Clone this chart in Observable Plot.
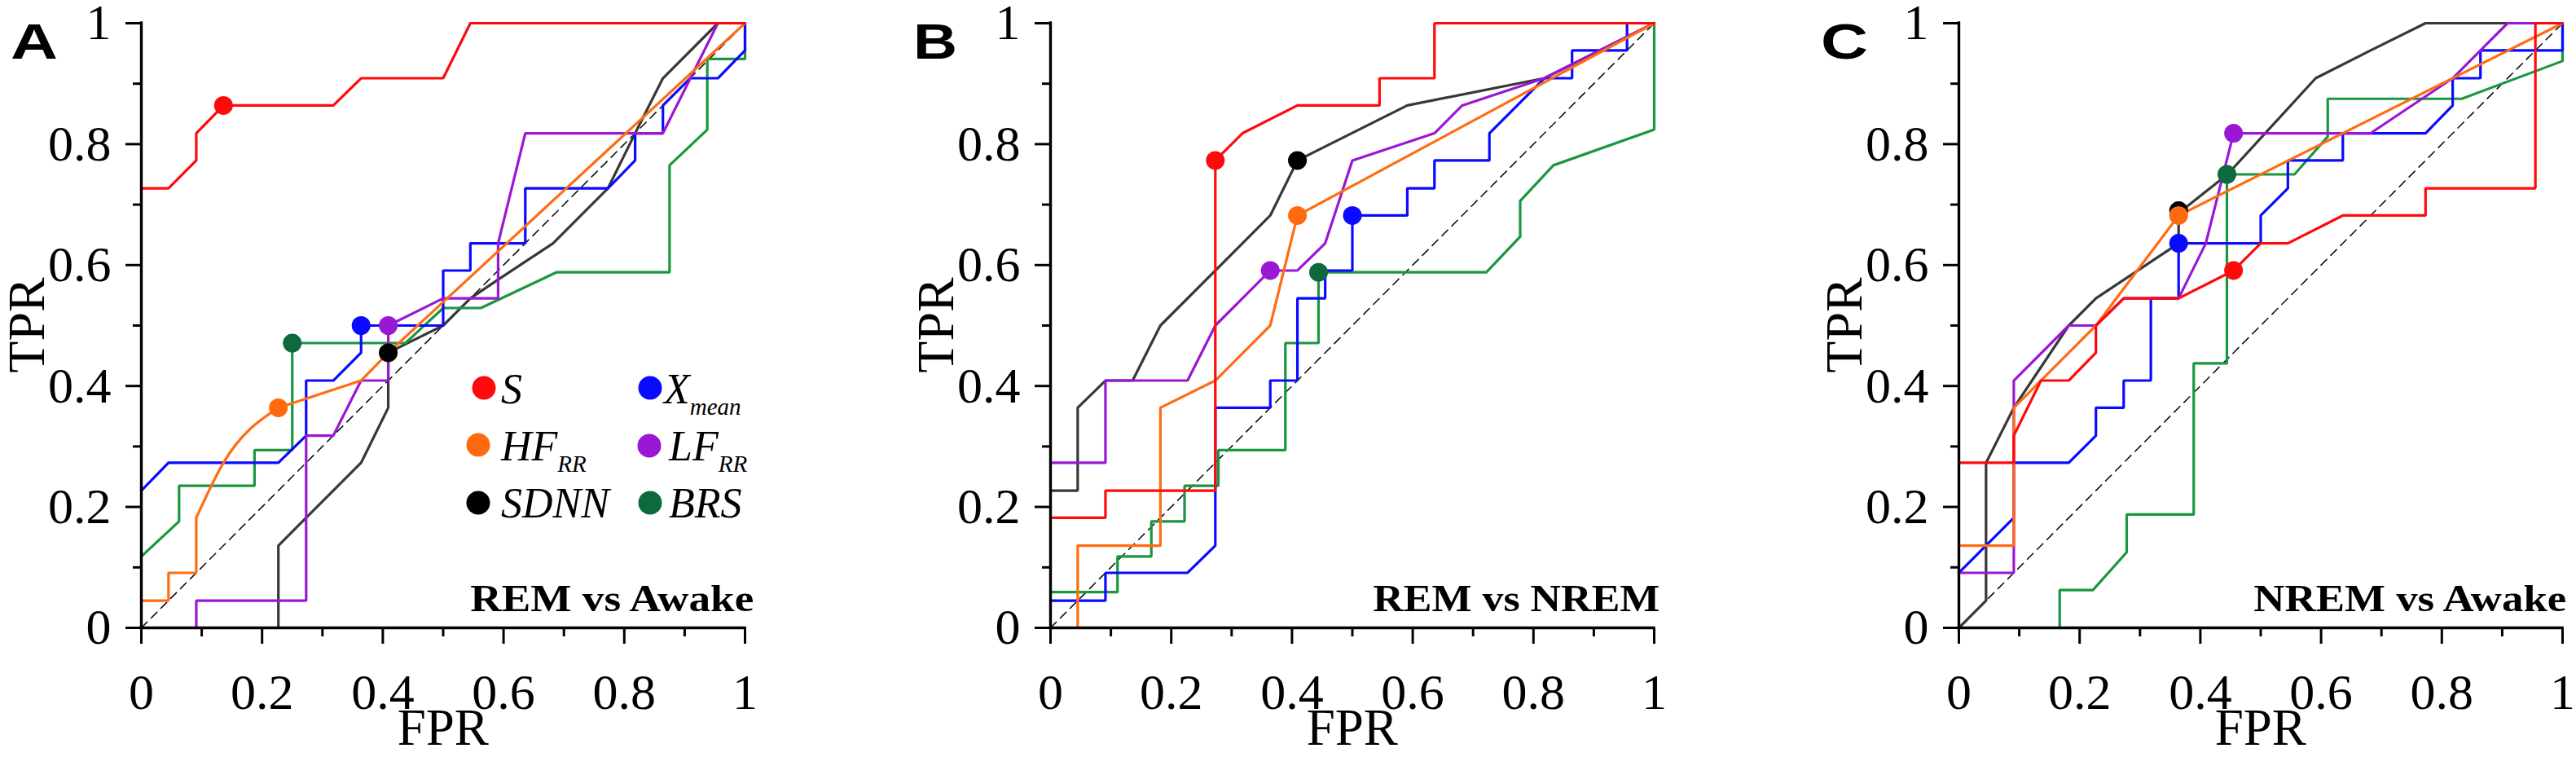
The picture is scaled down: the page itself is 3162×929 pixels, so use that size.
<!DOCTYPE html>
<html>
<head>
<meta charset="utf-8">
<script src="https://cdn.jsdelivr.net/npm/d3@7"></script>
<script src="https://cdn.jsdelivr.net/npm/@observablehq/plot@0.6"></script>
<style>
  html, body { margin: 0; padding: 0; background: #fff; }
  #wrap { position: relative; width: 3162px; height: 929px; overflow: hidden; background: #fff; }
  .panel { position: absolute; top: 0; }
  .panel text { font-family: "Liberation Serif", "Times New Roman", serif !important; fill: #000; }
  #overlay { position: absolute; left: 0; top: 0; pointer-events: none; }
</style>
</head>
<body>
<div id="wrap"></div>
<script>
// ---------------- DATA ----------------
const SERIES = ["S", "HF", "SDNN", "X", "LF", "BRS"];
const LINE_COLOR = {S: "#ff0a0a", HF: "#ff6c12", SDNN: "#383838", X: "#0a0aff", LF: "#9a17d4", BRS: "#1b9640"};
const DOT_COLOR  = {S: "#ff0a0a", HF: "#ff6a10", SDNN: "#000000", X: "#0a0aff", LF: "#9a17d4", BRS: "#0c6a3c"};
const PANEL_LETTERS = ["A", "B", "C"];
const PANEL_TITLES = ["REM vs Awake", "REM vs NREM", "NREM vs Awake"];
const Y_TICKS = [0, 0.2, 0.4, 0.6, 0.8, 1];
const X_TICKS = [0, 0.2, 0.4, 0.6, 0.8, 1];
const MINOR_TICKS = [0.1, 0.3, 0.5, 0.7, 0.9];
const DIAG_FPR = [0, 1];
const DIAG_TPR = [0, 1];

// Panel A — REM vs Awake
const A_S_fpr = [0, 0.045, 0.091, 0.091, 0.136, 0.318, 0.364, 0.5, 0.545, 1];
const A_S_tpr = [0.727, 0.727, 0.773, 0.818, 0.864, 0.864, 0.909, 0.909, 1, 1];
const A_HF_fpr = [0, 0.045, 0.045, 0.091, 0.091];
const A_HF_tpr = [0.045, 0.045, 0.091, 0.091, 0.182];
const A_HFcurve_fpr = [0.091, 0.136, 0.227];
const A_HFcurve_tpr = [0.182, 0.273, 0.364];
const A_HFtail_fpr = [0.227, 0.364, 0.409, 1];
const A_HFtail_tpr = [0.364, 0.409, 0.455, 1];
const A_SDNN_fpr = [0.227, 0.227, 0.273, 0.364, 0.409, 0.409, 0.5, 0.545, 0.591, 0.682, 0.773, 0.818, 0.864, 0.955, 1];
const A_SDNN_tpr = [0, 0.136, 0.182, 0.273, 0.364, 0.455, 0.5, 0.545, 0.576, 0.636, 0.727, 0.818, 0.909, 1, 1];
const A_X_fpr = [0, 0.045, 0.227, 0.273, 0.273, 0.318, 0.364, 0.364, 0.5, 0.5, 0.545, 0.545, 0.636, 0.636, 0.773, 0.818, 0.818, 0.864, 0.864, 0.909, 0.955, 1, 1];
const A_X_tpr = [0.227, 0.273, 0.273, 0.318, 0.409, 0.409, 0.455, 0.5, 0.5, 0.591, 0.591, 0.636, 0.636, 0.727, 0.727, 0.773, 0.818, 0.818, 0.864, 0.909, 0.909, 0.955, 1];
const A_LF_fpr = [0.091, 0.091, 0.273, 0.273, 0.318, 0.364, 0.409, 0.409, 0.5, 0.591, 0.591, 0.636, 0.864, 0.955, 1];
const A_LF_tpr = [0, 0.045, 0.045, 0.318, 0.318, 0.409, 0.409, 0.5, 0.545, 0.545, 0.636, 0.818, 0.818, 1, 1];
const A_BRS_fpr = [0, 0.0625, 0.0625, 0.1875, 0.1875, 0.25, 0.25, 0.4375, 0.5, 0.5625, 0.6875, 0.875, 0.875, 0.9375, 0.9375, 1, 1];
const A_BRS_tpr = [0.118, 0.176, 0.235, 0.235, 0.294, 0.294, 0.471, 0.471, 0.529, 0.529, 0.588, 0.588, 0.765, 0.824, 0.941, 0.941, 1];
const A_opt_fpr = [0.136, 0.227, 0.409, 0.364, 0.409, 0.25];   // S, HF, SDNN, X, LF, BRS
const A_opt_tpr = [0.864, 0.364, 0.455, 0.5, 0.5, 0.471];

// Panel B — REM vs NREM
const B_S_fpr = [0, 0.091, 0.091, 0.273, 0.273, 0.318, 0.409, 0.545, 0.545, 0.636, 0.636, 1];
const B_S_tpr = [0.182, 0.182, 0.227, 0.227, 0.773, 0.818, 0.864, 0.864, 0.909, 0.909, 1, 1];
const B_HF_fpr = [0.045, 0.045, 0.182, 0.182, 0.273, 0.364, 0.409, 1];
const B_HF_tpr = [0, 0.136, 0.136, 0.364, 0.409, 0.5, 0.682, 1];
const B_SDNN_fpr = [0, 0.045, 0.045, 0.091, 0.136, 0.182, 0.364, 0.409, 0.591, 0.818, 1];
const B_SDNN_tpr = [0.227, 0.227, 0.364, 0.409, 0.409, 0.5, 0.682, 0.773, 0.864, 0.909, 1];
const B_X_fpr = [0, 0.091, 0.091, 0.227, 0.273, 0.273, 0.364, 0.364, 0.409, 0.409, 0.455, 0.455, 0.5, 0.5, 0.591, 0.591, 0.636, 0.636, 0.727, 0.727, 0.818, 0.864, 0.864, 0.955, 0.955, 1];
const B_X_tpr = [0.045, 0.045, 0.091, 0.091, 0.136, 0.364, 0.364, 0.409, 0.409, 0.545, 0.545, 0.591, 0.591, 0.682, 0.682, 0.727, 0.727, 0.773, 0.773, 0.818, 0.909, 0.909, 0.955, 0.955, 1, 1];
const B_LF_fpr = [0, 0.091, 0.091, 0.227, 0.273, 0.364, 0.409, 0.455, 0.5, 0.636, 0.682, 0.818, 1];
const B_LF_tpr = [0.273, 0.273, 0.409, 0.409, 0.5, 0.591, 0.591, 0.636, 0.773, 0.818, 0.864, 0.909, 1];
const B_BRS_fpr = [0, 0.111, 0.111, 0.167, 0.167, 0.222, 0.222, 0.278, 0.278, 0.389, 0.389, 0.444, 0.444, 0.722, 0.778, 0.778, 0.833, 1, 1];
const B_BRS_tpr = [0.059, 0.059, 0.118, 0.118, 0.176, 0.176, 0.235, 0.235, 0.294, 0.294, 0.471, 0.471, 0.588, 0.588, 0.647, 0.706, 0.765, 0.824, 1];
const B_opt_fpr = [0.273, 0.409, 0.409, 0.5, 0.364, 0.444];
const B_opt_tpr = [0.773, 0.682, 0.773, 0.682, 0.591, 0.588];

// Panel C — NREM vs Awake
const C_S_fpr = [0, 0.091, 0.091, 0.136, 0.182, 0.227, 0.227, 0.273, 0.364, 0.455, 0.5, 0.545, 0.636, 0.773, 0.773, 0.955, 0.955, 1];
const C_S_tpr = [0.273, 0.273, 0.318, 0.409, 0.409, 0.455, 0.5, 0.545, 0.545, 0.591, 0.636, 0.636, 0.682, 0.682, 0.727, 0.727, 1, 1];
const C_HF_fpr = [0, 0.091, 0.091, 0.227, 0.364, 1];
const C_HF_tpr = [0.136, 0.136, 0.364, 0.5, 0.682, 1];
const C_SDNN_fpr = [0, 0.045, 0.045, 0.091, 0.182, 0.227, 0.364, 0.364, 0.445, 0.591, 0.682, 0.773, 1];
const C_SDNN_tpr = [0, 0.045, 0.273, 0.364, 0.5, 0.545, 0.636, 0.686, 0.75, 0.909, 0.955, 1, 1];
const C_X_fpr = [0, 0.091, 0.091, 0.182, 0.227, 0.227, 0.273, 0.273, 0.318, 0.318, 0.364, 0.364, 0.5, 0.5, 0.545, 0.545, 0.636, 0.636, 0.773, 0.818, 0.818, 0.864, 0.864, 1, 1];
const C_X_tpr = [0.091, 0.182, 0.273, 0.273, 0.318, 0.364, 0.364, 0.409, 0.409, 0.545, 0.545, 0.636, 0.636, 0.682, 0.727, 0.773, 0.773, 0.818, 0.818, 0.864, 0.909, 0.909, 0.955, 0.955, 1];
const C_LF_fpr = [0, 0.091, 0.091, 0.182, 0.227, 0.273, 0.364, 0.409, 0.455, 0.682, 0.818, 0.864, 0.909, 1];
const C_LF_tpr = [0.091, 0.091, 0.409, 0.5, 0.5, 0.545, 0.545, 0.636, 0.818, 0.818, 0.909, 0.955, 1, 1];
const C_BRS_fpr = [0.167, 0.167, 0.222, 0.278, 0.278, 0.389, 0.389, 0.444, 0.444, 0.556, 0.611, 0.611, 0.833, 1, 1];
const C_BRS_tpr = [0, 0.0625, 0.0625, 0.125, 0.1875, 0.1875, 0.4375, 0.4375, 0.75, 0.75, 0.8125, 0.875, 0.875, 0.9375, 1];
const C_opt_fpr = [0.455, 0.364, 0.364, 0.364, 0.455, 0.444];
const C_opt_tpr = [0.591, 0.682, 0.69, 0.636, 0.818, 0.75];

// ---------------- BUILD ----------------
const pts = (xs, ys) => xs.map((x, i) => ({fpr: x, tpr: ys[i]}));

const panels = [
  {
    lines: {
      SDNN: [pts(A_SDNN_fpr, A_SDNN_tpr)],
      BRS: [pts(A_BRS_fpr, A_BRS_tpr)],
      X: [pts(A_X_fpr, A_X_tpr)],
      LF: [pts(A_LF_fpr, A_LF_tpr)],
      HF: [pts(A_HF_fpr, A_HF_tpr), pts(A_HFtail_fpr, A_HFtail_tpr)],
      S: [pts(A_S_fpr, A_S_tpr)]
    },
    curved: {HF: pts(A_HFcurve_fpr, A_HFcurve_tpr)},
    opt: pts(A_opt_fpr, A_opt_tpr)
  },
  {
    lines: {
      SDNN: [pts(B_SDNN_fpr, B_SDNN_tpr)],
      BRS: [pts(B_BRS_fpr, B_BRS_tpr)],
      X: [pts(B_X_fpr, B_X_tpr)],
      LF: [pts(B_LF_fpr, B_LF_tpr)],
      HF: [pts(B_HF_fpr, B_HF_tpr)],
      S: [pts(B_S_fpr, B_S_tpr)]
    },
    curved: {},
    opt: pts(B_opt_fpr, B_opt_tpr)
  },
  {
    lines: {
      SDNN: [pts(C_SDNN_fpr, C_SDNN_tpr)],
      BRS: [pts(C_BRS_fpr, C_BRS_tpr)],
      X: [pts(C_X_fpr, C_X_tpr)],
      LF: [pts(C_LF_fpr, C_LF_tpr)],
      HF: [pts(C_HF_fpr, C_HF_tpr)],
      S: [pts(C_S_fpr, C_S_tpr)]
    },
    curved: {},
    opt: pts(C_opt_fpr, C_opt_tpr)
  }
];

// layout
const FRAME_X0 = [173.3, 1289.3, 2404.3];
const FRAME_W = 741;
const FRAME_TOP = 28, FRAME_BOTTOM = 770;
const ML = 175, MR = 40;
const SVG_W = ML + FRAME_W + MR;
const SVG_H = 929;
const SERIF = "Liberation Serif, Times New Roman, serif";
const SANS = "Liberation Sans, Arial, sans-serif";

const wrap = document.getElementById("wrap");
const DOT_ORDER = ["SDNN", "BRS", "X", "LF", "HF", "S"];

panels.forEach((p, i) => {
  const marks = [];
  marks.push(Plot.line(pts(DIAG_FPR, DIAG_TPR), {x: "fpr", y: "tpr", stroke: "#111", strokeWidth: 1.6, strokeDasharray: "10,7"}));
  for (const key of ["SDNN", "BRS", "X", "LF", "HF", "S"]) {
    for (const seg of p.lines[key]) {
      marks.push(Plot.line(seg, {x: "fpr", y: "tpr", stroke: LINE_COLOR[key], strokeWidth: 3.2, strokeLinejoin: "miter"}));
    }
    if (p.curved[key]) {
      marks.push(Plot.line(p.curved[key], {x: "fpr", y: "tpr", stroke: LINE_COLOR[key], strokeWidth: 3.2, curve: "monotone-x"}));
    }
  }
  for (const key of DOT_ORDER) {
    const d = p.opt[SERIES.indexOf(key)];
    marks.push(Plot.dot([d], {x: "fpr", y: "tpr", r: 11.5, fill: DOT_COLOR[key], stroke: "none"}));
  }
  marks.push(
    Plot.ruleX([0], {stroke: "#000", strokeWidth: 3.4, strokeLinecap: "square"}),
    Plot.ruleY([0], {stroke: "#000", strokeWidth: 3.4, strokeLinecap: "square"}),
    Plot.axisY(Y_TICKS, {anchor: "left", tickSize: 19, tickPadding: 18, strokeWidth: 3, tickFormat: d => String(d), fontSize: 62, fontFamily: SERIF, fill: "#000", label: null}),
    Plot.axisY(MINOR_TICKS, {anchor: "left", tickSize: 10, strokeWidth: 3, tickFormat: () => "", label: null}),
    Plot.axisX(X_TICKS, {anchor: "bottom", tickSize: 20, tickPadding: 35, strokeWidth: 3, tickFormat: d => String(d), fontSize: 62, fontFamily: SERIF, fill: "#000", label: null}),
    Plot.axisX(MINOR_TICKS, {anchor: "bottom", tickSize: 11, strokeWidth: 3, tickFormat: () => "", label: null})
  );
  const svg = Plot.plot({
    width: SVG_W,
    height: SVG_H,
    marginLeft: ML,
    marginRight: MR,
    marginTop: FRAME_TOP,
    marginBottom: SVG_H - FRAME_BOTTOM,
    x: {domain: [0, 1]},
    y: {domain: [0, 1]},
    style: {background: "transparent", fontFamily: SERIF, fontSize: "62px", color: "#000", overflow: "visible"},
    marks
  });
  svg.classList.add("panel");
  svg.style.left = (FRAME_X0[i] - ML) + "px";
  svg.style.top = "0px";
  d3.select(svg).selectAll("text").attr("font-family", SERIF);
  wrap.appendChild(svg);
});

// ---------------- OVERLAY TEXT (letters, axis titles, condition labels, legend) ----------------
const ov = d3.select(wrap).append("svg")
  .attr("id", "overlay")
  .attr("width", 3162).attr("height", 929);

const LETTER_LEFT = [13, 1121, 2235];
const LETTER_LEN = [58, 54, 58];
const TITLE_DX = [11, 7, 5];
const TITLE_LEN = [348, 352, 384];

FRAME_X0.forEach((x0, i) => {
  ov.append("text")
    .attr("x", LETTER_LEFT[i]).attr("y", 72)
    .attr("font-family", SANS).attr("font-weight", "bold").attr("font-size", 62)
    .attr("textLength", LETTER_LEN[i]).attr("lengthAdjust", "spacingAndGlyphs")
    .text(PANEL_LETTERS[i]);
  ov.append("text")
    .attr("x", x0 + FRAME_W / 2).attr("y", 914)
    .attr("text-anchor", "middle")
    .attr("font-family", SERIF).attr("font-size", 63)
    .text("FPR");
  ov.append("text")
    .attr("transform", `translate(${x0 - 119},${(FRAME_TOP + FRAME_BOTTOM) / 2}) rotate(-90)`)
    .attr("text-anchor", "middle")
    .attr("font-family", SERIF).attr("font-size", 64)
    .text("TPR");
  ov.append("text")
    .attr("x", x0 + FRAME_W + TITLE_DX[i]).attr("y", 750)
    .attr("text-anchor", "end")
    .attr("font-family", SERIF).attr("font-weight", "bold").attr("font-size", 46)
    .attr("textLength", TITLE_LEN[i]).attr("lengthAdjust", "spacingAndGlyphs")
    .text(PANEL_TITLES[i]);
});

// legend (panel A)
const LEGEND = [
  {key: "S",    main: "S",    sub: "",     dot: [594, 476], text: [615, 495]},
  {key: "X",    main: "X",    sub: "mean", dot: [798, 476], text: [815, 495]},
  {key: "HF",   main: "HF",   sub: "RR",   dot: [587, 546], text: [615, 565]},
  {key: "LF",   main: "LF",   sub: "RR",   dot: [797, 547], text: [821, 565]},
  {key: "SDNN", main: "SDNN", sub: "",     dot: [587, 617], text: [615, 635]},
  {key: "BRS",  main: "BRS",  sub: "",     dot: [798, 617], text: [821, 635]}
];
LEGEND.forEach(item => {
  ov.append("circle")
    .attr("cx", item.dot[0]).attr("cy", item.dot[1]).attr("r", 14.5)
    .attr("fill", DOT_COLOR[item.key]);
  const t = ov.append("text")
    .attr("x", item.text[0]).attr("y", item.text[1])
    .attr("font-family", SERIF).attr("font-style", "italic").attr("font-size", 52);
  t.append("tspan").text(item.main);
  if (item.sub) {
    t.append("tspan").attr("dy", 14).attr("font-size", 29).text(item.sub);
  }
});
</script>
</body>
</html>
